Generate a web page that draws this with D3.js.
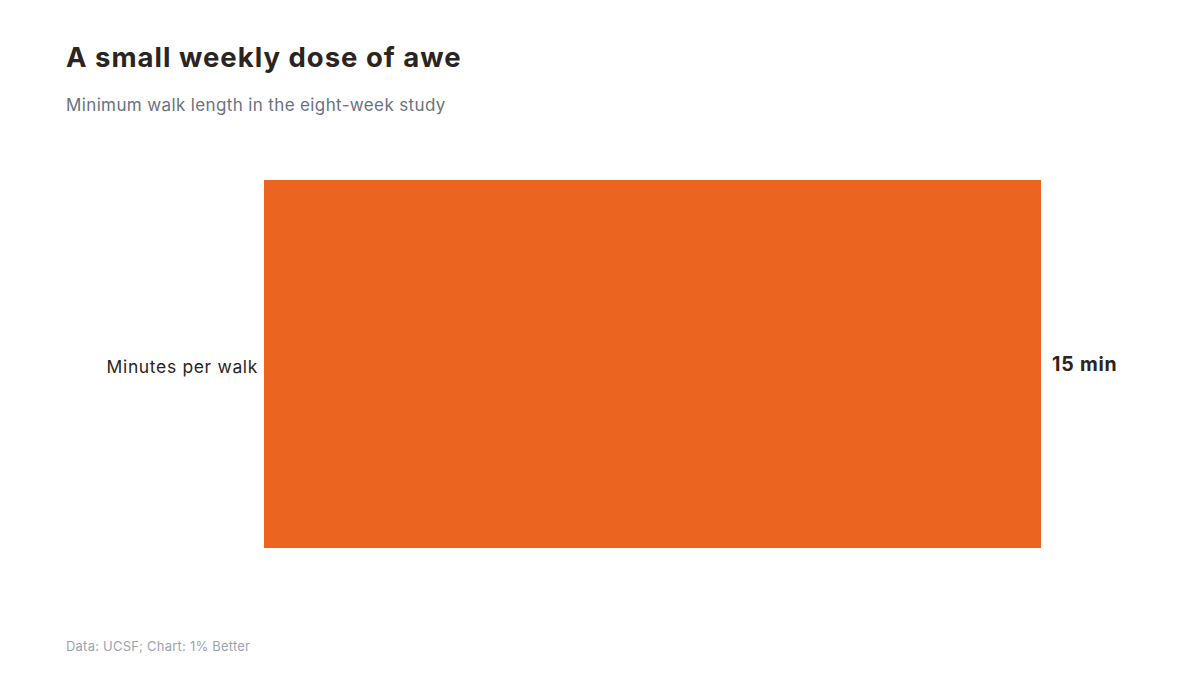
<!DOCTYPE html>
<html><head><meta charset="utf-8">
<script src="https://cdn.jsdelivr.net/npm/d3@7"></script>
<style>body{margin:0;background:#fff}svg{display:block}text{font-family:Inter,"Noto Sans",sans-serif}</style>
</head><body><svg id="c" width="1200" height="675"></svg>
<script>
const categories = ["Minutes per walk"];
const values = [15];
const valueLabels = ["15 min"];
const title = "A small weekly dose of awe";
const subtitle = "Minimum walk length in the eight-week study";
const source = "Data: UCSF; Chart: 1% Better";

const svg = d3.select("#c");
const x = d3.scaleLinear().domain([0, 15]).range([264, 1041]);
const y = d3.scaleBand().domain(categories).range([180, 548]).padding(0);

svg.append("text").attr("x",66).attr("y",67).attr("font-size",27.5).attr("font-weight",700).attr("letter-spacing",1.0).attr("fill","#2b2421").text(title);
svg.append("text").attr("x",66).attr("y",111).attr("font-size",17).attr("letter-spacing",0.37).attr("fill","#6b7280").text(subtitle);

svg.selectAll("rect.bar").data(values).join("rect").attr("class","bar")
  .attr("x",x(0)).attr("y",(d,i)=>y(categories[i])).attr("width",d=>x(d)-x(0)).attr("height",y.bandwidth()).attr("fill","#ec6520");

svg.selectAll("text.cat").data(categories).join("text").attr("class","cat")
  .attr("x",x(0)-6).attr("y",d=>y(d)+y.bandwidth()/2+3).attr("dy","0.35em").attr("text-anchor","end")
  .attr("font-size",17.5).attr("letter-spacing",0.65).attr("fill","#2b2421").text(d=>d);

svg.selectAll("text.val").data(values).join("text").attr("class","val")
  .attr("x",d=>x(d)+11).attr("y",(d,i)=>y(categories[i])+y.bandwidth()/2).attr("dy","0.35em")
  .attr("font-size",19.5).attr("font-weight",700).attr("letter-spacing",0.8).attr("fill","#2b2421").text((d,i)=>valueLabels[i]);

svg.append("text").attr("x",66).attr("y",651).attr("font-size",13).attr("letter-spacing",0.22).attr("fill","#9ca3af").text(source);
</script></body></html>
